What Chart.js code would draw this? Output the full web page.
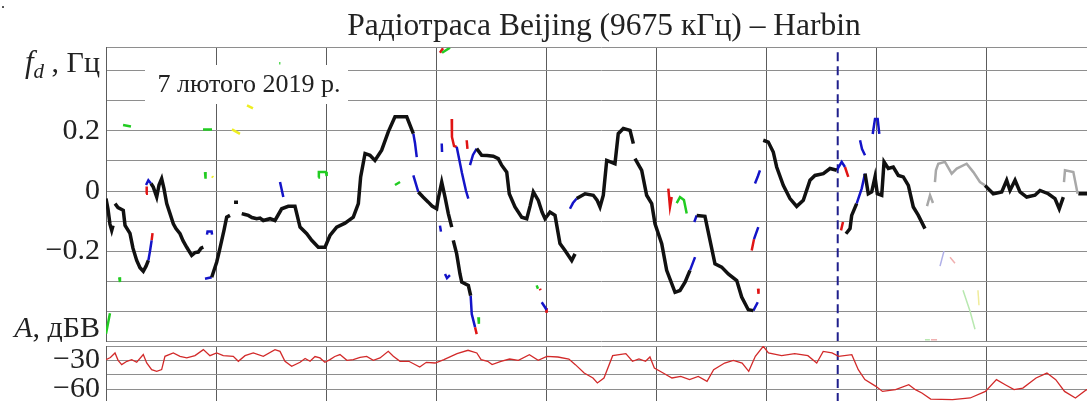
<!DOCTYPE html>
<html>
<head>
<meta charset="utf-8">
<script src="https://cdn.jsdelivr.net/npm/chart.js@4"></script>
<style>
  html, body { margin: 0; padding: 0; background: #fff; overflow: hidden; width: 1087px; height: 401px; }
  #top { position: absolute; left: 0; top: 0; width: 1096px; height: 342px; }
  #bot { position: absolute; left: 0; top: 344px; width: 1096px; height: 58px; }
</style>
</head>
<body>
<div id="top"><canvas id="c1"></canvas></div>
<div id="bot"><canvas id="c2"></canvas></div>
<script>
// time axis in hours from the left edge, one grid line per hour
const hourMin = 0, hourMax = 9;
const dashHour = 6.652;

// Doppler shift, Hz
const fdMin = -0.5, fdMax = 0.477;
const fdGrid = [-0.5, -0.4, -0.3, -0.2, -0.1, 0, 0.1, 0.2, 0.3, 0.4, 0.477];
const fdLabels = [0.2, 0, -0.2];

// amplitude, dBV
const ampMin = -73.6, ampMax = -15;
const ampGrid = [-73.6, -60, -45, -30, -15];
const ampLabels = [-30, -60];

const titleText = 'Радіотраса Beijing (9675 кГц) – Harbin';
const dateNote = '7 лютого 2019 р.';

// [hour, fd]; null breaks the trace
const fdBlack = [
  [0,-0.025],[0.018,-0.06],[0.036,-0.11],[0.052,-0.131],[0.064,-0.115], null,
  [0.082,-0.042],[0.109,-0.055],[0.157,-0.064],[0.173,-0.114],[0.218,-0.141],[0.245,-0.19],[0.279,-0.231],[0.309,-0.255],[0.339,-0.267],[0.364,-0.25],[0.385,-0.231], null,
  [0.409,0.025],[0.43,0.013],[0.461,-0.02],[0.482,0.02],[0.506,0.041],[0.527,0.008],[0.552,-0.042],[0.582,-0.075],[0.612,-0.109],[0.636,-0.125],[0.673,-0.142],[0.7,-0.165],[0.734,-0.187],[0.779,-0.214],[0.809,-0.205],[0.839,-0.203],[0.864,-0.19],[0.885,-0.187], null,
  [0.961,-0.287],[1.006,-0.237],[1.027,-0.205],[1.052,-0.164],[1.073,-0.13],[1.097,-0.087],[1.127,-0.081], null,
  [1.164,-0.037],[1.2,-0.037], null,
  [1.234,-0.075],[1.264,-0.078],[1.294,-0.081],[1.327,-0.088],[1.37,-0.092],[1.4,-0.09],[1.43,-0.098],[1.491,-0.092],[1.536,-0.098],[1.597,-0.059],[1.657,-0.051],[1.718,-0.051],[1.764,-0.12],[1.825,-0.142],[1.87,-0.164],[1.93,-0.187],[1.991,-0.187],[2.036,-0.148],[2.097,-0.12],[2.173,-0.107],[2.248,-0.087],[2.294,-0.042],[2.315,0.047],[2.355,0.125],[2.4,0.119],[2.445,0.102],[2.506,0.136],[2.566,0.197],[2.627,0.247],[2.734,0.247],[2.794,0.191], null,
  [2.839,-0.003],[2.882,-0.02],[2.93,-0.037],[2.964,-0.05],[3.006,-0.059],[3.018,-0.03],[3.052,0.03],[3.082,-0.02],[3.112,-0.075],[3.143,-0.12], null,
  [3.157,-0.164],[3.188,-0.209],[3.218,-0.276],[3.234,-0.303],[3.294,-0.314],[3.315,-0.348], null,
  [3.37,0.141],[3.415,0.119],[3.464,0.118],[3.521,0.116],[3.566,0.108],[3.597,0.086],[3.643,0.063],[3.666,-0.009],[3.718,-0.053],[3.779,-0.087],[3.825,-0.092],[3.855,-0.05],[3.885,-0.003],[3.93,-0.031],[3.964,-0.07],[3.991,-0.092],[4.036,-0.07],[4.082,-0.081],[4.127,-0.175],[4.173,-0.198],[4.234,-0.231],[4.264,-0.209], null,
  [4.279,-0.025],[4.355,-0.009],[4.43,-0.014],[4.464,-0.03],[4.491,-0.053],[4.521,-0.014],[4.552,0.102],[4.627,0.091],[4.657,0.191],[4.703,0.208],[4.764,0.202],[4.794,0.158], null,
  [4.809,0.108],[4.87,0.069],[4.915,-0.014],[4.961,-0.042],[4.991,-0.109],[5.052,-0.175],[5.097,-0.264],[5.173,-0.337],[5.218,-0.331],[5.264,-0.303],[5.309,-0.264], null,
  [5.37,-0.081],[5.445,-0.084],[5.491,-0.164],[5.536,-0.242],[5.597,-0.253],[5.657,-0.276],[5.734,-0.298],[5.779,-0.353],[5.839,-0.395],[5.885,-0.398], null,
  [5.975,0.169],[6.021,0.163],[6.066,0.13],[6.097,0.08],[6.157,0.019],[6.218,-0.025],[6.279,-0.051],[6.339,-0.031],[6.4,0.036],[6.445,0.052],[6.521,0.058],[6.582,0.075],[6.643,0.069], null,
  [6.727,-0.142],[6.764,-0.125],[6.779,-0.081],[6.824,-0.042], null,
  [6.9,0.058],[6.93,-0.009],[6.961,-0.003],[6.991,0.047],[7.012,-0.009],[7.052,-0.014],[7.073,0.097],[7.112,0.075],[7.157,0.08],[7.203,0.052],[7.248,0.047],[7.294,0.019],[7.339,-0.053],[7.385,-0.081],[7.445,-0.125], null,
  [7.991,0.019],[8.006,0.013],[8.066,-0.009],[8.143,-0.003],[8.188,0.036],[8.218,0.002],[8.264,0.036],[8.309,-0.003],[8.37,-0.02],[8.445,-0.014],[8.491,0.002],[8.566,-0.009],[8.627,-0.025],[8.666,-0.059],[8.703,-0.02], null,
  [8.839,-0.009],[9,-0.009]
];

const fdGray = [
  [7.464,-0.05],[7.491,-0.014],[7.518,-0.04], null,
  [7.536,0.03],[7.545,0.069],[7.566,0.091],[7.627,0.097],[7.688,0.058],[7.734,0.075],[7.824,0.091],[7.885,0.063],[7.945,0.03],[7.991,0.019], null,
  [8.709,0.03],[8.718,0.069],[8.794,0.063],[8.833,-0.009]
];

const fdBlue = [
  [0.385,-0.231],[0.4,-0.2],[0.415,-0.164], null,
  [0.364,0.02],[0.385,0.036],[0.409,0.025], null,
  [0.918,-0.145],[0.923,-0.135],[0.96,-0.135],[0.964,-0.145], null,
  [0.9,-0.292],[0.961,-0.287], null,
  [1.582,0.03],[1.612,-0.02], null,
  [2.794,0.191],[2.809,0.16],[2.825,0.113], null,
  [2.794,0.052],[2.839,-0.003], null,
  [3.036,-0.115],[3.045,-0.135], null,
  [3.052,0.158],[3.055,0.13], null,
  [3.188,0.147],[3.236,0.06],[3.273,0.0],[3.294,-0.025], null,
  [3.309,0.086],[3.336,0.12],[3.37,0.141], null,
  [3.082,-0.276],[3.1,-0.29],[3.127,-0.28], null,
  [3.315,-0.348],[3.325,-0.409],[3.355,-0.453], null,
  [3.961,-0.37],[4.006,-0.395], null,
  [4.218,-0.059],[4.245,-0.04],[4.279,-0.025], null,
  [5.309,-0.264],[5.355,-0.22], null,
  [5.348,-0.103],[5.37,-0.081], null,
  [5.891,-0.16],[5.93,-0.12], null,
  [5.885,-0.398],[5.925,-0.37], null,
  [5.9,0.025],[5.927,0.05],[5.945,0.069], null,
  [6.643,0.069],[6.688,0.097],[6.718,0.08], null,
  [6.824,-0.042],[6.87,0.008],[6.9,0.058], null,
  [6.855,0.169],[6.873,0.14],[6.9,0.119], null,
  [6.97,0.19],[6.991,0.24],[7.015,0.24],[7.03,0.19]
];

const fdRed = [
  [0.364,-0.009],[0.37,0.015], null,
  [0.415,-0.164],[0.423,-0.14], null,
  [3.036,0.46],[3.064,0.475], null,
  [3.143,0.24],[3.145,0.18],[3.164,0.15],[3.188,0.147], null,
  [3.279,0.169],[3.286,0.14], null,
  [3.355,-0.453],[3.37,-0.476], null,
  [3.945,-0.325],[3.95,-0.33], null,
  [4.0,-0.39],[4.006,-0.405], null,
  [5.112,0.008],[5.127,-0.053],[5.143,-0.02], null,
  [5.87,-0.198],[5.891,-0.16], null,
  [5.928,-0.325],[5.932,-0.342], null,
  [6.718,0.08],[6.748,0.047], null,
  [6.682,-0.131],[6.7,-0.103]
];

const fdGreen = [
  [0.155,0.22],[0.227,0.215], null,
  [0.882,0.205],[0.964,0.205], null,
  [0.9,0.063],[0.905,0.041], null,
  [0.12,-0.287],[0.127,-0.303], null,
  [0,-0.475],[0.036,-0.407], null,
  [1.575,0.425],[1.585,0.425], null,
  [1.93,0.045],[1.935,0.063],[2.0,0.063],[2.006,0.05], null,
  [2.627,0.02],[2.673,0.03], null,
  [3.055,0.46],[3.127,0.477], null,
  [3.385,-0.42],[3.39,-0.442], null,
  [3.915,-0.314],[3.927,-0.325], null,
  [5.188,-0.04],[5.218,-0.02],[5.254,-0.03],[5.279,-0.075]
];

const fdYellow = [
  [1.145,0.205],[1.218,0.19], null,
  [1.282,0.285],[1.336,0.275], null,
  [0.964,0.049],[0.973,0.045]
];

const fdPaleBlue = [[7.582,-0.25],[7.618,-0.2]];
const fdPaleRed = [[7.673,-0.22],[7.718,-0.24], null, [7.5,-0.495],[7.555,-0.495]];
const fdPaleGreen = [[7.791,-0.33],[7.855,-0.4],[7.9,-0.46], null, [7.445,-0.495],[7.49,-0.495]];
const fdPaleYellow = [[7.927,-0.33],[7.936,-0.38]];

// [hour, dBV]
const ampTrace = [
  [0,-29.3],[0.04,-27],[0.082,-22.3],[0.11,-30],[0.143,-34.5],[0.19,-31],[0.234,-29.3],[0.279,-32],[0.339,-24],[0.37,-32.7],[0.415,-39.7],[0.461,-41.5],[0.506,-39.7],[0.536,-25.8],[0.612,-22.3],[0.673,-25.8],[0.734,-27.5],[0.809,-25.1],[0.885,-18.8],[0.945,-25.1],[1.006,-22.3],[1.066,-25.1],[1.157,-25.8],[1.203,-31],[1.264,-25.1],[1.339,-22.3],[1.43,-25.8],[1.536,-18.8],[1.582,-20.6],[1.627,-31],[1.688,-36.3],[1.764,-32],[1.81,-28],[1.855,-31],[1.9,-26],[1.945,-27.5],[1.99,-32],[2.036,-29.3],[2.08,-26],[2.127,-24],[2.19,-30],[2.248,-29.3],[2.31,-27],[2.37,-25.8],[2.43,-30],[2.491,-27.5],[2.566,-20.6],[2.612,-25.8],[2.673,-31],
  [2.753,-31],[2.852,-37],[2.912,-32.1],[2.992,-32.8],[3.072,-29.3],[3.191,-23],[3.291,-19.5],[3.371,-22.3],[3.41,-29.3],[3.47,-31],[3.51,-34.5],[3.59,-31],[3.669,-28.6],[3.749,-30],[3.849,-24.1],[3.929,-30],[4.008,-25.8],[4.108,-26.5],[4.208,-28.6],[4.267,-34.5],[4.347,-43.3],[4.427,-48.5],[4.467,-53.7],[4.527,-48.5],[4.606,-25.1],[4.726,-23],[4.786,-31],[4.845,-28.6],[4.905,-31],[4.945,-26.5],[4.985,-38],[5.065,-43.3],[5.145,-48.5],[5.225,-46.8],[5.305,-50.2],[5.384,-46.8],[5.464,-52],[5.524,-39.8],[5.624,-32.8],[5.703,-30],[5.783,-32.8],[5.843,-41.5],[5.903,-25.8],[5.975,-15.3],[6.022,-22.3],[6.142,-25.1],[6.261,-23],[6.381,-25.1],[6.461,-32.8],[6.52,-20.6],[6.6,-22.3],[6.66,-25.8],[6.78,-24.1],[6.839,-39.8],[6.899,-50.2],[6.999,-57.2],[7.059,-62.5],[7.178,-60.7],[7.298,-55.5],[7.358,-60.7],[7.417,-64.2],[7.497,-70.5],[7.696,-71.2],[7.856,-69.4],[7.995,-62.5],[8.095,-50.2],[8.175,-55.5],[8.255,-60.7],[8.335,-59],[8.455,-48.5],[8.554,-43.3],[8.634,-50.2],[8.714,-62.5],[8.813,-69.4],[8.913,-60.7],[9,-62]
];

function pts(list) {
  return list.map((p, i) => p ? { x: p[0], y: p[1] } : { x: list[i - 1][0], y: null });
}
function series(list, color, width) {
  return { data: pts(list), borderColor: color, borderWidth: width, pointRadius: 0, spanGaps: false, tension: 0 };
}
function dashSeries(lo, hi) {
  return { data: [{ x: dashHour, y: lo }, { x: dashHour, y: hi }], borderColor: '#1f1f8c', borderWidth: 2, borderDash: [9, 5], pointRadius: 0 };
}
function fmt(v) {
  return v < 0 ? '\u2212' + Math.abs(v) : String(v);
}
function axes(yMin, yMax, grid, labels) {
  return {
    x: {
      type: 'linear', min: hourMin, max: hourMax,
      ticks: { display: false, stepSize: 1 },
      grid: { color: '#5c5c5c', drawTicks: false },
      border: { display: false },
      afterFit: s => { s.height = 0; s.paddingLeft = 0; s.paddingRight = 0; }
    },
    y: {
      min: yMin, max: yMax,
      afterBuildTicks: s => { s.ticks = grid.map(v => ({ value: v })); },
      afterFit: s => { s.width = 106; s.paddingTop = 0; s.paddingBottom = 0; },
      grid: { color: '#8e8e8e', drawTicks: false },
      border: { color: '#5c5c5c' },
      ticks: {
        autoSkip: false, padding: 6, color: '#222',
        font: { family: 'Liberation Serif', size: 30 },
        callback: v => labels.some(l => Math.abs(l - v) < 1e-9) ? fmt(v) : ''
      }
    }
  };
}

function drawParts(ctx, parts, right, base) {
  let w = 0;
  parts.forEach(p => { ctx.font = p[1]; w += ctx.measureText(p[0]).width; });
  let x = right - w;
  parts.forEach(p => {
    ctx.font = p[1];
    ctx.fillText(p[0], x, base + (p[2] || 0));
    x += ctx.measureText(p[0]).width;
  });
}

const decor = {
  id: 'decor',
  beforeDatasetsDraw(chart) {
    const { ctx } = chart;
    ctx.save();
    ctx.fillStyle = '#fff';
    ctx.fillRect(145, 65, 203, 39);
    ctx.fillStyle = '#222';
    ctx.font = '26px "Liberation Serif"';
    ctx.textAlign = 'center';
    ctx.fillText(dateNote, 249, 92);
    ctx.restore();
  },
  afterDraw(chart) {
    const { ctx } = chart;
    ctx.save();
    ctx.fillStyle = '#222';
    ctx.textAlign = 'center';
    ctx.font = '31.5px "Liberation Serif"';
    ctx.fillText(titleText, 604, 35);
    ctx.textAlign = 'left';
    drawParts(ctx, [['f', 'italic 31px "Liberation Serif"'], ['d', 'italic 21px "Liberation Serif"', 6], [' , Гц', '30px "Liberation Serif"']], 100, 72);
    drawParts(ctx, [['A', 'italic 30px "Liberation Serif"'], [', дБВ', '30px "Liberation Serif"']], 100, 337);
    ctx.font = '16px "Liberation Serif"';
    ctx.fillText('.', 1, 8);
    ctx.restore();
  }
};

const common = {
  responsive: true,
  maintainAspectRatio: false,
  animation: false,
  events: [],
  plugins: { legend: { display: false }, tooltip: { enabled: false }, title: { display: false } }
};

new Chart(document.getElementById('c1'), {
  type: 'line',
  data: {
    datasets: [
      series(fdPaleGreen, '#b8e8b0', 1.5),
      series(fdPaleYellow, '#f0ec9a', 1.5),
      series(fdPaleBlue, '#b0b0e8', 1.5),
      series(fdPaleRed, '#f0b0b0', 1.5),
      series(fdGray, '#a8a8a8', 2.5),
      series(fdBlack, '#111', 3.5),
      series(fdGreen, '#22cc22', 2.5),
      series(fdYellow, '#eeee22', 2.5),
      series(fdBlue, '#1414c8', 2.5),
      series(fdRed, '#e01414', 2.5),
      dashSeries(fdMin, fdMax)
    ]
  },
  options: Object.assign({}, common, {
    layout: { padding: { top: 47.7, bottom: 0.7, left: 0, right: 0 } },
    scales: axes(fdMin, fdMax, fdGrid, fdLabels)
  }),
  plugins: [decor]
});

new Chart(document.getElementById('c2'), {
  type: 'line',
  data: {
    datasets: [
      series(ampTrace, '#d22a2a', 1.3),
      dashSeries(ampMin, ampMax)
    ]
  },
  options: Object.assign({}, common, {
    layout: { padding: { top: 2, bottom: 0, left: 0, right: 0 } },
    scales: axes(ampMin, ampMax, ampGrid, ampLabels)
  })
});
</script>
</body>
</html>
